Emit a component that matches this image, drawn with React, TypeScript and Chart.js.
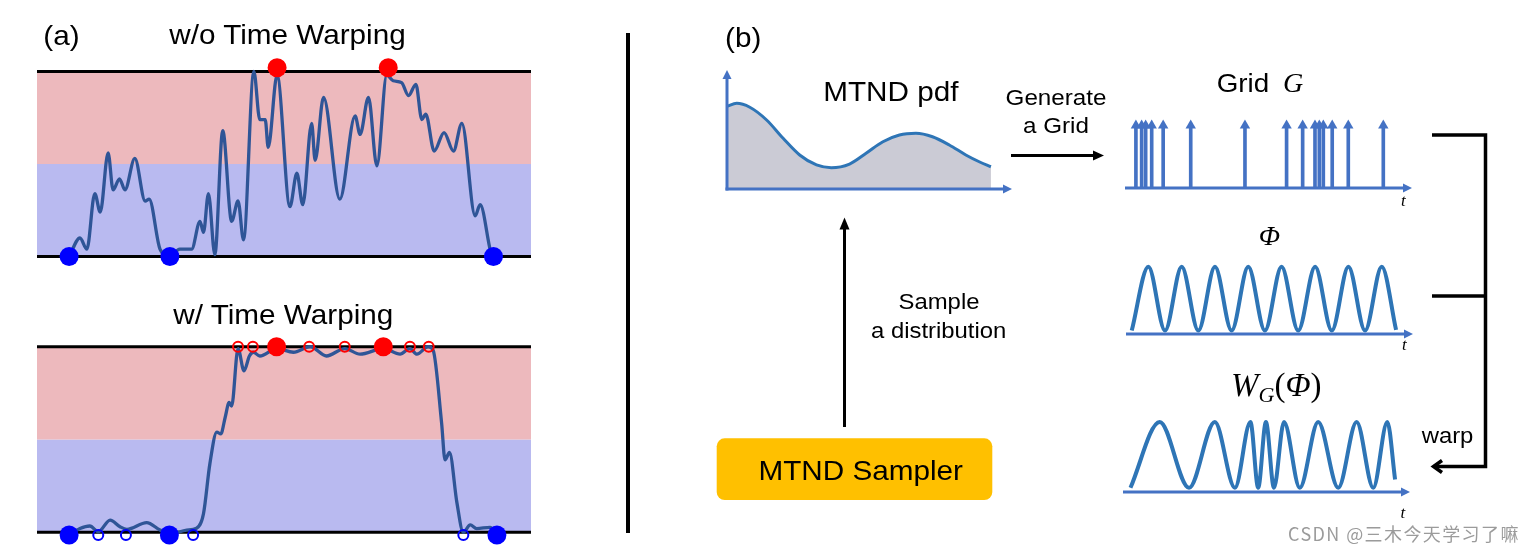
import React, { useEffect, useRef } from "react";
import { Chart, registerables } from "chart.js";

Chart.register(...registerables);

// ---------------- data ----------------
// (a) upper panel: signal without time warping. time 0–100, level 0 = lower bound, 100 = upper bound
const rawTime = [6.5, 8.7, 10.1, 11.7, 12.8, 14.4, 15.4, 16.7, 17.8, 19.8, 21.9, 22.7, 24.9, 26.9, 28.9, 31.3, 33.0, 33.7, 34.7, 36.0, 37.6, 39.4, 40.7, 41.8, 43.9, 45.1, 46.2, 46.8, 48.6, 51.2, 52.6, 53.8, 55.6, 56.3, 58.0, 61.3, 64.4, 65.4, 67.1, 68.8, 70.8, 72.1, 73.8, 75.2, 76.7, 77.9, 78.7, 80.4, 82.4, 84.3, 86.0, 88.7, 89.7, 92.0, 92.4];
const rawLevel = [0, 10, 4, 34, 24, 56, 36, 42, 36, 53, 30, 31, 4, 0, 4, 4, 19, 13, 34, 1, 68, 19, 30, 9, 100, 74, 74, 59, 98, 27, 45, 28, 72, 52, 86, 31, 76, 66, 86, 49, 98, 95, 94, 87, 93, 74, 77, 57, 67, 57, 72, 22, 28, 1, 0];
const rawPeakTime = [48.6, 71.1];
const rawPeakLevel = [102, 102];
const rawTroughTime = [6.5, 26.9, 92.4];
const rawTroughLevel = [0, 0, 0];

// (a) lower panel: signal with time warping
const warpTime = [6.5, 8.7, 10.7, 12.4, 14.8, 16.8, 18.2, 22.2, 24.9, 26.9, 30.3, 32.3, 33.7, 35.0, 36.4, 37.2, 38.1, 38.9, 39.4, 40.7, 41.9, 43.0, 43.8, 45.1, 48.5, 51.9, 55.3, 58.6, 62.3, 65.4, 70.1, 73.5, 75.5, 76.9, 79.2, 80.2, 81.9, 82.6, 83.5, 85.0, 86.3, 87.7, 89.0, 91.7, 93.1];
const warpLevel = [-1.5, 2, 3.4, 0.3, 6.6, 3, 1.6, 5.2, 1.2, -0.9, 1.2, 2.2, 10, 37, 54, 53, 62, 70, 68, 99, 87, 95, 97, 95, 99, 97, 100, 95, 99, 96, 99, 96, 99, 96, 100, 98, 59, 39, 43, 16, 0, 4, 2, 2.7, -1.5];
const warpPeakTime = [48.5, 70.1];
const warpPeakLevel = [100, 100];
const warpPeakOpenTime = [40.7, 43.7, 55.1, 62.3, 75.5, 79.3];
const warpPeakOpenLevel = [100, 100, 100, 100, 100, 100];
const warpTroughTime = [6.5, 26.8, 93.1];
const warpTroughLevel = [-1.5, -1.5, -1.5];
const warpTroughOpenTime = [12.4, 18.0, 31.6, 86.3];
const warpTroughOpenLevel = [-1.5, -1.5, -1.5, -1.5];

const bandTime = [0, 100];
const bandSplit = 50;
const bandTop = 100;
const bandBottom = 0;

// (b) MTND pdf
const pdfT = [0, 0.34, 0.8, 1.39, 1.97, 2.55, 3.14, 3.66, 4.3, 4.88, 5.47, 6.05, 6.63, 7.21, 7.8, 8.38, 8.85, 9.26];
const pdfV = [69.5, 72.0, 68.7, 58.0, 42.6, 28.6, 20.2, 17.9, 21.0, 30.0, 39.7, 45.4, 46.8, 43.9, 37.0, 28.6, 22.9, 18.7];

// (b) Grid G sample times
const gridT = [0.38, 0.58, 0.72, 0.93, 1.33, 2.29, 4.18, 5.63, 6.19, 6.62, 6.77, 6.91, 7.22, 7.78, 9.0];
const gridStem = 0.88;
const gridHead = 0.92;

// (b) Φ : extrema of the periodic signal
const phiT = [0.2, 0.78, 1.36, 1.94, 2.52, 3.1, 3.68, 4.26, 4.84, 5.42, 6.0, 6.59, 7.17, 7.75, 8.33, 8.91, 9.41];
const phiV = [0.05, 0.99, 0.05, 0.99, 0.05, 0.99, 0.05, 0.99, 0.05, 0.99, 0.05, 0.99, 0.05, 0.99, 0.05, 0.99, 0.06];

// (b) W_G(Φ): extrema of the warped signal
const warpedT = [0.26, 1.28, 2.3, 3.2, 3.9, 4.44, 4.71, 4.98, 5.26, 5.61, 6.16, 6.8, 7.5, 8.14, 8.72, 9.21, 9.48];
const warpedV = [0.06, 1, 0.06, 1, 0.06, 1, 0.06, 1, 0.06, 1, 0.06, 1, 0.06, 1, 0.06, 1, 0.18];

// ---------------- styles ----------------
const PINK = "#EDB9BD";
const LAVENDER = "#B9BAF0";
const CURVE = "#2F5597";
const RED = "#FF0000";
const BLUE = "#0000FF";
const AXIS = "#4472C4";
const WAVE = "#2E75B6";
const PDF_FILL = "#CBCBD5";
const ORANGE = "#FFC000";
const SANS = '"Liberation Sans", Arial, sans-serif';
const SERIF = '"Liberation Serif", "Times New Roman", serif';

const pts = (xs: number[], ys: number[]) => xs.map((x, i) => ({ x, y: ys[i] }));

type Pad = { left: number; right: number; top: number; bottom: number };
type Box = { left: number; top: number; width: number; height: number };

function baseOptions(pad: Pad, xr: number[], yr: number[], plugins: any = {}) {
  return {
    responsive: false,
    animation: false,
    devicePixelRatio: 1,
    events: [],
    layout: { padding: pad },
    plugins: { legend: { display: false }, tooltip: { enabled: false }, ...plugins },
    scales: {
      x: { type: "linear", min: xr[0], max: xr[1], display: false, offset: false },
      y: { type: "linear", min: yr[0], max: yr[1], display: false },
    },
  };
}

function arrowHead(ctx: CanvasRenderingContext2D, x: number, y: number, dx: number, dy: number, len: number, half: number) {
  ctx.beginPath();
  ctx.moveTo(x, y);
  ctx.lineTo(x - dx * len - dy * half, y - dy * len + dx * half);
  ctx.lineTo(x - dx * len + dy * half, y - dy * len - dx * half);
  ctx.closePath();
  ctx.fill();
}

function axisPlugin(withY: boolean) {
  return {
    id: "axisArrows",
    afterDatasetsDraw(chart: any) {
      const { ctx, chartArea: a } = chart;
      const y0 = chart.scales.y.getPixelForValue(0);
      ctx.save();
      ctx.strokeStyle = AXIS;
      ctx.fillStyle = AXIS;
      ctx.lineWidth = 3;
      ctx.beginPath();
      ctx.moveTo(a.left - (withY ? 1.5 : 0), y0);
      ctx.lineTo(a.right - 6, y0);
      ctx.stroke();
      arrowHead(ctx, a.right, y0, 1, 0, 9, 4.5);
      if (withY) {
        ctx.beginPath();
        ctx.moveTo(a.left, y0 + 1.5);
        ctx.lineTo(a.left, a.top + 6);
        ctx.stroke();
        arrowHead(ctx, a.left, a.top, 0, -1, 9, 4.5);
      }
      ctx.restore();
    },
  };
}

function bandConfig(
  pad: Pad,
  curveT: number[], curveL: number[],
  peakT: number[], peakL: number[],
  peakOpenT: number[], peakOpenL: number[],
  troughT: number[], troughL: number[],
  troughOpenT: number[], troughOpenL: number[]
) {
  return {
    type: "line",
    data: {
      datasets: [
        { label: "max", data: pts(peakT, peakL), showLine: false, pointRadius: 9.5, pointBackgroundColor: RED, pointBorderWidth: 0, clip: false, order: 0 },
        { label: "min", data: pts(troughT, troughL), showLine: false, pointRadius: 9.5, pointBackgroundColor: BLUE, pointBorderWidth: 0, clip: false, order: 1 },
        { label: "max open", data: pts(peakOpenT, peakOpenL), showLine: false, pointRadius: 5, pointBackgroundColor: "rgba(0,0,0,0)", pointBorderColor: RED, pointBorderWidth: 2, clip: false, order: 2 },
        { label: "min open", data: pts(troughOpenT, troughOpenL), showLine: false, pointRadius: 5, pointBackgroundColor: "rgba(0,0,0,0)", pointBorderColor: BLUE, pointBorderWidth: 2, clip: false, order: 3 },
        { label: "signal", data: pts(curveT, curveL), borderColor: CURVE, borderWidth: 3.3, pointRadius: 0, cubicInterpolationMode: "monotone", clip: false, order: 4 },
        { label: "upper", data: pts(bandTime, [bandTop, bandTop]), borderColor: "#000", borderWidth: 3, pointRadius: 0, clip: false, order: 5 },
        { label: "lower", data: pts(bandTime, [bandBottom, bandBottom]), borderColor: "#000", borderWidth: 3, pointRadius: 0, clip: false, order: 6 },
        { label: "upper band", data: pts(bandTime, [bandTop, bandTop]), borderWidth: 0, borderColor: "rgba(0,0,0,0)", backgroundColor: PINK, fill: { value: bandSplit }, pointRadius: 0, order: 7 },
        { label: "lower band", data: pts(bandTime, [bandSplit, bandSplit]), borderWidth: 0, borderColor: "rgba(0,0,0,0)", backgroundColor: LAVENDER, fill: { value: bandBottom }, pointRadius: 0, order: 8 },
      ],
    },
    options: baseOptions(pad, [0, 100], [0, 100]),
  };
}

function pdfConfig() {
  return {
    type: "line",
    data: {
      datasets: [
        { label: "pdf", data: pts(pdfT, pdfV), borderColor: WAVE, borderWidth: 3, backgroundColor: PDF_FILL, fill: "origin", pointRadius: 0, cubicInterpolationMode: "monotone", clip: false },
      ],
    },
    options: baseOptions({ left: 15, right: 15, top: 12, bottom: 11 }, [0, 10], [0, 100]),
    plugins: [axisPlugin(true)],
  };
}

function gridConfig() {
  return {
    type: "bar",
    data: {
      datasets: [
        { type: "line", label: "heads", data: gridT.map((t) => ({ x: t, y: gridHead })), showLine: false, pointStyle: "triangle", pointRadius: 6, pointBackgroundColor: AXIS, pointBorderWidth: 0, clip: false },
        { type: "bar", label: "grid", data: gridT.map((t) => ({ x: t, y: gridStem })), backgroundColor: AXIS, barThickness: 3, borderWidth: 0 },
      ],
    },
    options: baseOptions({ left: 10, right: 13, top: 15, bottom: 27 }, [0, 10], [0, 1]),
    plugins: [axisPlugin(false)],
  };
}

function waveConfig(ts: number[], vs: number[], pad: Pad) {
  return {
    type: "line",
    data: {
      datasets: [
        { label: "wave", data: pts(ts, vs), borderColor: WAVE, borderWidth: 4, pointRadius: 0, cubicInterpolationMode: "monotone", clip: false },
      ],
    },
    options: baseOptions(pad, [0, 10], [0, 1]),
    plugins: [axisPlugin(false)],
  };
}

function ChartBox({ box, make }: { box: Box; make: () => any }) {
  const ref = useRef<HTMLCanvasElement>(null);
  useEffect(() => {
    const chart = new Chart(ref.current as HTMLCanvasElement, make());
    return () => chart.destroy();
  }, []);
  return (
    <canvas
      ref={ref}
      width={box.width}
      height={box.height}
      style={{ position: "absolute", left: box.left, top: box.top, width: box.width, height: box.height }}
    />
  );
}

function T(props: {
  x: number; y: number; size: number; anchor?: string; sx?: number; family?: string;
  italic?: boolean; fill?: string; spacing?: number; children: any;
}) {
  const { x, y, size, anchor = "middle", sx = 1.1, family = SANS, italic = false, fill = "#000", spacing = 0 } = props;
  return (
    <text
      transform={`translate(${x},${y}) scale(${sx},1)`}
      x={0}
      y={0}
      fontSize={size}
      textAnchor={anchor as any}
      fontFamily={family}
      fontStyle={italic ? "italic" : "normal"}
      fill={fill}
      letterSpacing={spacing}
    >
      {props.children}
    </text>
  );
}

function Overlay() {
  return (
    <svg width={1534} height={559} style={{ position: "absolute", left: 0, top: 0, pointerEvents: "none" }}>
      {/* divider */}
      <line x1={628} y1={33} x2={628} y2={533} stroke="#000" strokeWidth={4} />
      {/* orange sampler box */}
      <rect x={716.7} y={438.3} width={275.6} height={61.7} rx={8} ry={8} fill={ORANGE} />
      {/* generate arrow */}
      <line x1={1011} y1={155.5} x2={1095} y2={155.5} stroke="#000" strokeWidth={3} />
      <polygon points="1104,155.5 1093,150.5 1093,160.5" fill="#000" />
      {/* sample arrow */}
      <line x1={844.5} y1={427} x2={844.5} y2={227} stroke="#000" strokeWidth={3} />
      <polygon points="844.5,217.5 839.5,229.5 849.5,229.5" fill="#000" />
      {/* bracket */}
      <polyline points="1432,135 1485.5,135 1485.5,466.5 1434,466.5" fill="none" stroke="#000" strokeWidth={3.5} />
      <line x1={1432} y1={296} x2={1485.5} y2={296} stroke="#000" strokeWidth={3.5} />
      <polyline points="1442,460.5 1433.5,466.5 1442,472.5" fill="none" stroke="#000" strokeWidth={3.5} />

      <T x={43.3} y={45} size={27} anchor="start">(a)</T>
      <T x={287.5} y={44} size={27}>w/o Time Warping</T>
      <T x={283.3} y={324.3} size={27}>w/ Time Warping</T>
      <T x={725} y={47} size={27} anchor="start">(b)</T>
      <T x={890.8} y={101} size={27}>MTND pdf</T>
      <T x={1056} y={105} size={22}>Generate</T>
      <T x={1056} y={133.3} size={22}>a Grid</T>
      <T x={1216.7} y={92.3} size={26} anchor="start" sx={1.07}>Grid</T>
      <T x={1283} y={92.3} size={28} anchor="start" sx={1} family={SERIF} italic>G</T>
      <T x={939} y={309.3} size={21.7}>Sample</T>
      <T x={938.7} y={337.7} size={21.7}>a distribution</T>
      <T x={860.7} y={480} size={27}>MTND Sampler</T>
      <T x={1269.5} y={245} size={28} sx={1} family={SERIF} italic>Φ</T>
      <text x={1231} y={396} fontSize={33} fontFamily={SERIF} fill="#000">
        <tspan fontStyle="italic">W</tspan>
        <tspan fontStyle="italic" fontSize={22} dy={6}>G</tspan>
        <tspan dy={-6}>(</tspan>
        <tspan fontStyle="italic">Φ</tspan>
        <tspan>)</tspan>
      </text>
      <T x={1401} y={206} size={17} anchor="start" sx={1} family={SERIF} italic>t</T>
      <T x={1402} y={350} size={17} anchor="start" sx={1} family={SERIF} italic>t</T>
      <T x={1400.5} y={518} size={17} anchor="start" sx={1} family={SERIF} italic>t</T>
      <T x={1447.5} y={443.3} size={21.7}>warp</T>
      <T x={1288} y={540.5} size={18} anchor="start" sx={1} family={'"Noto Sans CJK SC", "Noto Sans", sans-serif'} fill="#9b9b9b" spacing={1.4}>
        CSDN @三木今天学习了嘛
      </T>
    </svg>
  );
}

export default function App() {
  return (
    <div style={{ position: "absolute", left: 0, top: 0, width: 1534, height: 559, background: "#fff", overflow: "hidden" }}>
      <ChartBox
        box={{ left: 27, top: 50, width: 514, height: 220 }}
        make={() =>
          bandConfig(
            { left: 10, right: 10, top: 21.5, bottom: 13.5 },
            rawTime, rawLevel,
            rawPeakTime, rawPeakLevel,
            [], [],
            rawTroughTime, rawTroughLevel,
            [], []
          )
        }
      />
      <ChartBox
        box={{ left: 27, top: 325, width: 514, height: 225 }}
        make={() =>
          bandConfig(
            { left: 10, right: 10, top: 21.7, bottom: 17.7 },
            warpTime, warpLevel,
            warpPeakTime, warpPeakLevel,
            warpPeakOpenTime, warpPeakOpenLevel,
            warpTroughTime, warpTroughLevel,
            warpTroughOpenTime, warpTroughOpenLevel
          )
        }
      />
      <ChartBox box={{ left: 712, top: 58, width: 315, height: 142 }} make={pdfConfig} />
      <ChartBox box={{ left: 1115, top: 105, width: 310, height: 110 }} make={gridConfig} />
      <ChartBox
        box={{ left: 1115, top: 255, width: 310, height: 100 }}
        make={() => waveConfig(phiT, phiV, { left: 11, right: 12, top: 11, bottom: 21 })}
      />
      <ChartBox
        box={{ left: 1115, top: 410, width: 310, height: 100 }}
        make={() => waveConfig(warpedT, warpedV, { left: 8, right: 15, top: 12, bottom: 18 })}
      />
      <Overlay />
    </div>
  );
}
